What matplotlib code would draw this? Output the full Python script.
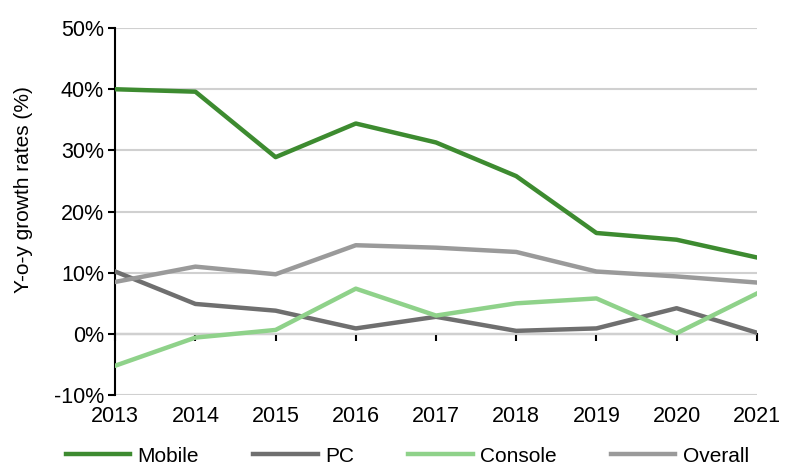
import numpy as np
import matplotlib.pyplot as plt

plt.rcParams['font.family'] = ['Liberation Sans', 'DejaVu Sans']

years = [2013, 2014, 2015, 2016, 2017, 2018, 2019, 2020, 2021]
mobile = [40.0, 39.6, 28.9, 34.4, 31.3, 25.8, 16.5, 15.4, 12.5]
pc = [10.2, 4.9, 3.8, 0.9, 2.8, 0.5, 0.9, 4.2, 0.2]
console = [-5.2, -0.6, 0.65, 7.4, 3.0, 5.0, 5.8, 0.1, 6.6]
overall = [8.5, 11.0, 9.75, 14.5, 14.1, 13.4, 10.2, 9.4, 8.4]

fig = plt.figure(figsize=(8, 4.76), dpi=100)
ax = fig.add_axes([0.144, 0.170, 0.802, 0.771])

ax.plot(years, mobile, color="#3d8b30", lw=3.2, label="Mobile", zorder=4)
ax.plot(years, pc, color="#6f6f6f", lw=3.2, label="PC", zorder=3)
ax.plot(years, console, color="#8fd28a", lw=3.2, label="Console", zorder=3)
ax.plot(years, overall, color="#9a9a9a", lw=3.2, label="Overall", zorder=3)

ax.set_xlim(2013, 2021)
ax.set_ylim(-10, 50)
ax.set_yticks(np.arange(-10, 51, 10))
ax.set_yticklabels([f"{v}%" for v in range(-10, 51, 10)])
ax.set_xticks(years)
ax.set_xticklabels([str(y) for y in years])
ax.yaxis.grid(True, color="#d0d0d0", lw=1.5)
ax.set_axisbelow(True)

for s in ["top", "right", "bottom"]:
    ax.spines[s].set_visible(False)
ax.spines["left"].set_linewidth(1.5)
ax.tick_params(axis="y", length=5, width=1.5, labelsize=15.5, pad=3)
ax.tick_params(axis="x", length=0, labelsize=15.5, pad=8)

# zero line with tick marks
sec = ax.secondary_xaxis(10 / 60)
sec.set_xticks(years)
sec.set_xticklabels([])
sec.spines["bottom"].set_linewidth(1.5)
sec.tick_params(length=5, width=1.5)

ax.set_ylabel("Y-o-y growth rates (%)", fontsize=15, va="center")
ax.yaxis.set_label_coords(-0.143, 0.559)

ax.legend(loc="center", bbox_to_anchor=(0.455, -0.166), ncol=4, frameon=False,
          fontsize=15, handlelength=3.1, columnspacing=2.6, handletextpad=0.35)

fig.savefig("out.png", dpi=100)
